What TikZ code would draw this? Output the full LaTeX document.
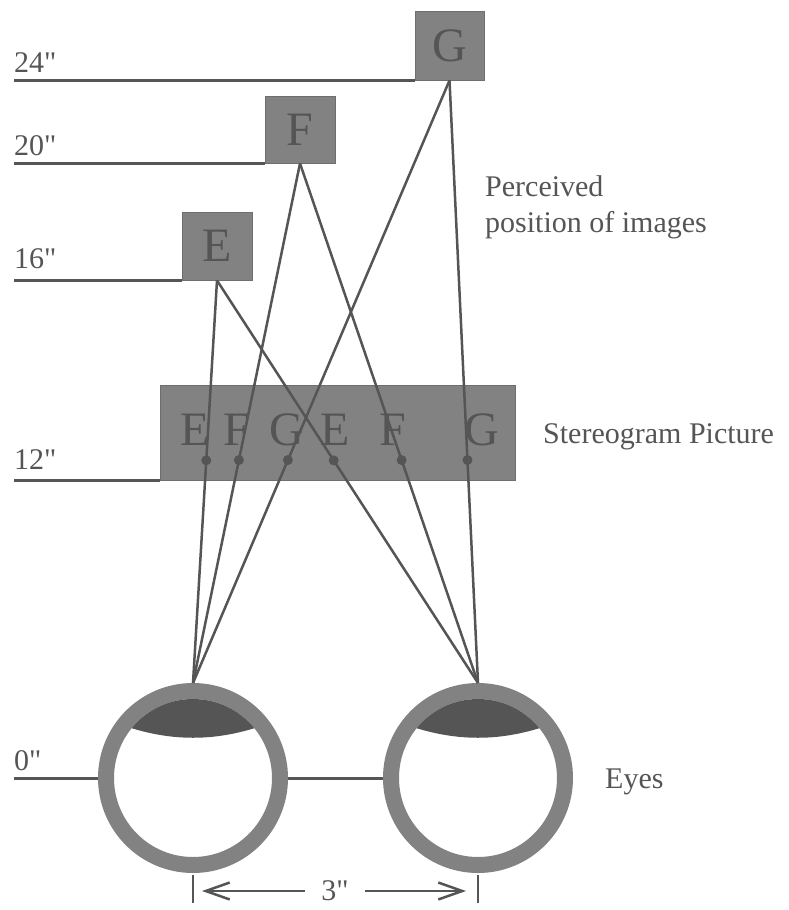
\documentclass[tikz,border=0pt]{standalone}
\usepackage{fontspec}
\setmainfont[Ligatures=TeXOff]{Liberation Serif}
\usepackage{tikz}
\usepackage{xcolor}
\usetikzlibrary{arrows.meta, positioning, calc}
\definecolor{inkcolor}{RGB}{85,85,85}
\definecolor{stipcolor}{RGB}{130,130,130}
\definecolor{lenscolor}{RGB}{85,85,85}

\begin{document}
\begin{tikzpicture}[x=1pt, y=-1pt,
    lab/.style={text=inkcolor, font=\fontsize{30}{34}\selectfont, inner sep=0pt},
    level/.style={draw=inkcolor, line width=3pt},
    ray/.style={draw=inkcolor, line width=2.5pt},
    imgbox/.style={fill=stipcolor, draw=stipcolor!85!black, line width=0.8pt, inner sep=0pt,
        text=inkcolor, font=\fontsize{48}{50}\selectfont},
    eyeball/.style={circle, draw=stipcolor, line width=16pt, fill=white, minimum size=174pt, inner sep=0pt},
    retdot/.style={circle, fill=inkcolor, inner sep=0pt, minimum size=10pt}]
    \useasboundingbox (0,0) rectangle (788,910);
    \coordinate (leftedge) at (14,0);

    % Images percues
    \node[imgbox, minimum width=69pt, minimum height=69pt] (boxG) at (449.5,45.5) {G};
    \node[imgbox, minimum width=70pt, minimum height=67pt] (boxF) at (300,129.5) {F};
    \node[imgbox, minimum width=70pt, minimum height=68pt] (boxE) at (217,246) {E};

    % Niveaux de profondeur
    \draw[level] (boxG.south west) -- (boxG.south west -| leftedge);
    \draw[level] (boxF.south west) -- (boxF.south west -| leftedge);
    \draw[level] (boxE.south west) -- (boxE.south west -| leftedge);
    \node[lab, anchor=base west] (lab24) at (14,72) {24"};
    \node[lab, anchor=base west] (lab20) at (14,155) {20"};
    \node[lab, anchor=base west] (lab16) at (14,268) {16"};

    \node[lab, anchor=base west] (percu1) at (485,196) {Perceived};
    \node[lab, anchor=base west] (percu2) at (485,232) {position of images};

    % Stereogramme
    \node[imgbox, minimum width=355pt, minimum height=95pt] (stereo) at (337.5,432.5) {};
    \foreach \c/\x in {E/195, F/237, G/287, E/335, F/393, G/482}
        \node[text=inkcolor, font=\fontsize{48}{50}\selectfont, anchor=base, inner sep=0pt] at (\x,445) {\c};
    \draw[level] (stereo.south west) -- (stereo.south west -| leftedge);
    \node[lab, anchor=base west] (lab12) at (14,469) {12"};
    \node[lab, anchor=base west] (stereolab) at (543,443) {Stereogram Picture};

    % Yeux
    \foreach \n/\x in {L/193, R/478} {
        \node[eyeball] (eye\n) at (\x,778) {};
        \begin{scope}[shift={(eye\n.center)}]
            \clip (0,0) circle (79pt);
            \fill[lenscolor] (-62,-50) .. controls (-20,-37) and (20,-37) .. (62,-50)
                -- (62,-90) -- (-62,-90) -- cycle;
        \end{scope}
    }
    \draw[level] (eyeL.east) -- (eyeR.west);
    \draw[level] (eyeL.west) -- (eyeL.west -| leftedge);
    \node[lab, anchor=base west] (lab0) at (14,770) {0"};
    \node[lab, anchor=base west] (eyelab) at (605,788) {Eyes};

    % Rayons
    \draw[ray] (boxE.south) -- node[retdot, pos=0.447] (dE1) {} (eyeL.north);
    \draw[ray] (boxE.south) -- node[retdot, pos=0.447] (dE2) {} (eyeR.north);
    \draw[ray] (boxF.south) -- node[retdot, pos=0.571] (dF1) {} (eyeL.north);
    \draw[ray] (boxF.south) -- node[retdot, pos=0.571] (dF2) {} (eyeR.north);
    \draw[ray] (boxG.south) -- node[retdot, pos=0.630] (dG1) {} (eyeL.north);
    \draw[ray] (boxG.south) -- node[retdot, pos=0.630] (dG2) {} (eyeR.north);

    % Ecart des yeux
    \draw[level, line width=2.5pt] ($(eyeL.south)+(0,2)$) coordinate (tickL) -- ++(0,28);
    \draw[level, line width=2.5pt] ($(eyeR.south)+(0,2)$) coordinate (tickR) -- ++(0,28);
    \node[lab, inner xsep=16pt] (dimlab) at (335,891) {3"};
    \draw[ray, -{Straight Barb[length=24pt, width=17pt]}, shorten >=9pt] (dimlab.west) -- (dimlab.west -| tickL);
    \draw[ray, -{Straight Barb[length=24pt, width=17pt]}, shorten >=12pt] (dimlab.east) -- (dimlab.east -| tickR);
\end{tikzpicture}
\end{document}
